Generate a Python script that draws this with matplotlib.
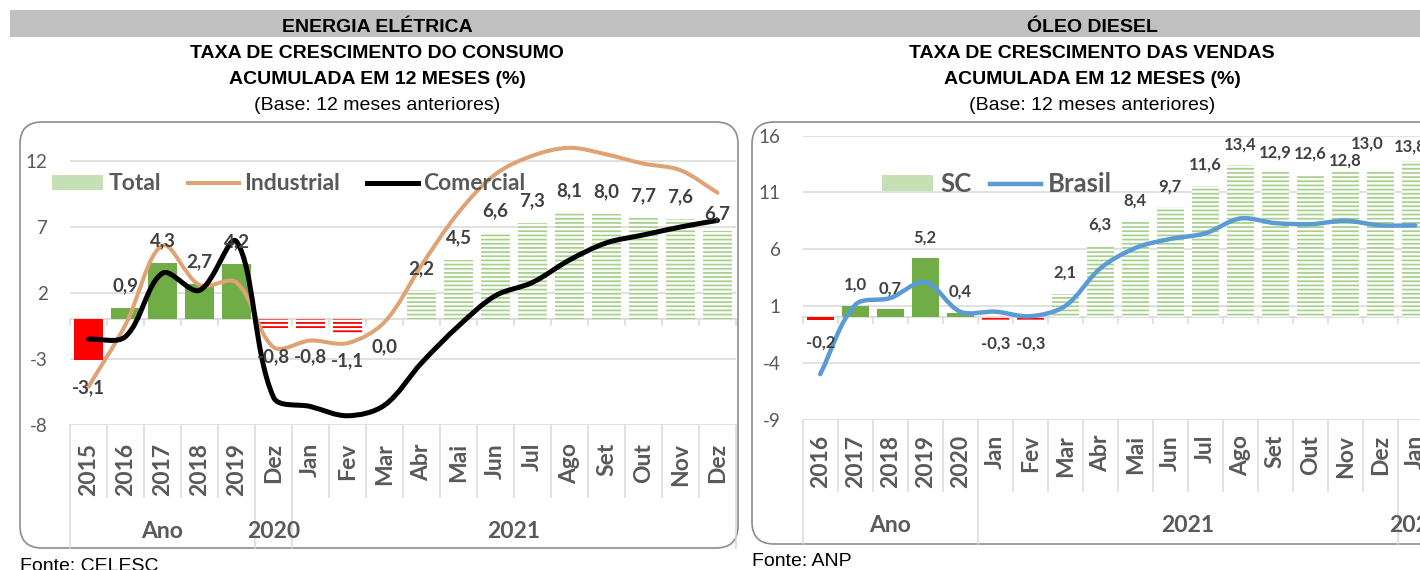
import numpy as np
import matplotlib
matplotlib.use("Agg")
import matplotlib.pyplot as plt
from matplotlib.patches import FancyBboxPatch, Rectangle, PathPatch, Patch
from matplotlib.path import Path
from matplotlib.lines import Line2D

# ---------------- data ----------------
left_categories = ['2015', '2016', '2017', '2018', '2019', 'Dez', 'Jan', 'Fev', 'Mar',
                   'Abr', 'Mai', 'Jun', 'Jul', 'Ago', 'Set', 'Out', 'Nov', 'Dez']
left_groups = [('Ano', 0, 4), ('2020', 5, 5), ('2021', 6, 17)]
left_total = [-3.1, 0.9, 4.3, 2.7, 4.2, -0.8, -0.8, -1.1, 0.0,
              2.2, 4.5, 6.6, 7.3, 8.1, 8.0, 7.7, 7.6, 6.7]
left_industrial = [-5.1, -0.4, 5.6, 2.6, 2.8, -2.1, -1.6, -1.8, -0.2,
                   4.1, 8.1, 11.0, 12.4, 13.0, 12.5, 11.8, 11.3, 9.6]
left_comercial = [-1.5, -1.3, 3.5, 2.2, 5.9, -5.9, -6.6, -7.3, -6.5,
                  -3.3, -0.5, 1.8, 2.8, 4.5, 5.8, 6.4, 7.0, 7.5]
left_yticks = [-8, -3, 2, 7, 12]

right_categories = ['2016', '2017', '2018', '2019', '2020', 'Jan', 'Fev', 'Mar', 'Abr',
                    'Mai', 'Jun', 'Jul', 'Ago', 'Set', 'Out', 'Nov', 'Dez', 'Jan']
right_groups = [('Ano', 0, 4), ('2021', 5, 16), ('2022', 17, 17)]
right_sc = [-0.2, 1.0, 0.7, 5.2, 0.4, -0.3, -0.3, 2.1, 6.3,
            8.4, 9.7, 11.6, 13.4, 12.9, 12.6, 12.8, 13.0, 13.8]
right_brasil = [-5.0, 1.1, 1.7, 3.1, 0.5, 0.5, 0.1, 1.0, 4.3,
                6.1, 6.9, 7.4, 8.7, 8.3, 8.2, 8.5, 8.1, 8.1]
right_yticks = [-9, -4, 1, 6, 11, 16]

# label nudges (pixels) for a few crowded data labels
left_label_nudge = {17: (0, -5)}
right_label_nudge = {13: (0, -3), 15: (0, -10), 16: (-13, 5), 17: (-5, -7)}

# ---------------- style ----------------
W, H, DPI = 1420, 570, 100
plt.rcParams['font.family'] = ['Lato', 'DejaVu Sans']
plt.rcParams['hatch.linewidth'] = 1.3

GRID = '#D9D9D9'
TXT = '#595959'
LBL = '#404040'
GREEN = '#70AD47'
LGREEN = '#C5E0B4'
HGREEN = '#A9D18E'
RED = '#FF0000'
ORANGE = '#DFA274'
BLUE = '#5B9BD5'
HEAD_FONT = ['Liberation Sans', 'DejaVu Sans']

fig = plt.figure(figsize=(W / DPI, H / DPI), dpi=DPI)
fig.patch.set_facecolor('white')


def fx(px):
    return px / W


def fy(py):
    return 1 - py / H


def smooth_path(xs, ys, sx, sy):
    """Bezier smoothing (Excel-like), control points weighted by screen chord lengths."""
    P = np.column_stack([np.asarray(xs, float) * sx, np.asarray(ys, float) * sy])
    n = len(P)
    cin = [None] * n
    cout = [None] * n
    for i in range(n):
        prev = P[i - 1] if i > 0 else P[i]
        nxt = P[i + 1] if i < n - 1 else P[i]
        T = nxt - prev
        dp = np.hypot(*(P[i] - prev))
        dn = np.hypot(*(nxt - P[i]))
        tot = dp + dn if dp + dn > 0 else 1.0
        cout[i] = P[i] + T * (dn / tot) / 3
        cin[i] = P[i] - T * (dp / tot) / 3
    verts = [P[0]]
    codes = [Path.MOVETO]
    for i in range(n - 1):
        verts += [cout[i], cin[i + 1], P[i + 1]]
        codes += [Path.CURVE4] * 3
    V = np.array(verts)
    V[:, 0] /= sx
    V[:, 1] /= sy
    return Path(V, codes)


def fmt(v):
    return f"{v:.1f}".replace('.', ',')


def build_panel(rect_px, ylim, yticks, cats, groups, bars, lines, bar_width,
                label_size, label_up, label_down, nudges, tick_pad, box_bottom,
                sep_bottom, group_label_y):
    left, top, width, bottom = rect_px
    ax_h = bottom - top
    ax = fig.add_axes([fx(left), fy(bottom), width / W, ax_h / H])
    ax.set_facecolor('none')
    for s in ax.spines.values():
        s.set_visible(False)
    n = len(cats)
    x = np.arange(n)
    n_annual = groups[0][2] + 1
    ppu = ax_h / (ylim[1] - ylim[0])
    ppc = width / n

    # bars: annual solid, monthly striped; green positive, red negative
    for i, v in enumerate(bars):
        annual = i < n_annual
        if v < 0:
            col, hcol = RED, RED
        else:
            col, hcol = GREEN, HGREEN
        if annual:
            ax.bar(x[i], v, bar_width, color=col, linewidth=0, zorder=2)
        else:
            ax.bar(x[i], v, bar_width, facecolor='white', edgecolor=hcol,
                   hatch='----', linewidth=0, zorder=2)

    # smoothed lines
    for vals, col, lw in lines:
        pp = PathPatch(smooth_path(x, vals, ppc, ppu), facecolor='none', edgecolor=col,
                       linewidth=lw, capstyle='round', joinstyle='round', zorder=3)
        ax.add_patch(pp)

    # data labels
    for i, v in enumerate(bars):
        dx, dy = nudges.get(i, (0, 0))
        off = label_up if v > 0 else -label_down
        ax.annotate(fmt(v), (x[i], v), xytext=(dx, off + dy), textcoords='offset pixels',
                    ha='center', va='center', fontsize=label_size, fontweight='bold',
                    color=LBL, zorder=6)

    ax.set_xlim(-0.5, n - 0.5)
    ax.set_ylim(*ylim)
    ax.set_yticks(yticks)
    ax.set_yticklabels([str(t) for t in yticks])
    ax.yaxis.grid(True, color=GRID, linewidth=1.1, zorder=0)
    ax.set_axisbelow(True)
    ax.tick_params(axis='y', length=0, pad=16, labelsize=13.5, labelcolor=TXT)
    ax.set_xticks(x)
    ax.set_xticklabels(cats, rotation=90, fontsize=16.5, fontweight='bold', color=TXT)
    ax.tick_params(axis='x', length=0, pad=tick_pad)

    # category axis at zero with small tick marks
    ax.axhline(0, color=GRID, linewidth=1.2, zorder=1)
    seps = np.arange(n + 1) - 0.5
    for s in seps:
        ax.plot([s, s], [0, -6 / ppu], color=GRID, linewidth=1.1, zorder=1, clip_on=False)

    # separators in label area
    trans = ax.get_xaxis_transform()
    bounds = set([g[1] - 0.5 for g in groups] + [groups[-1][2] + 0.5])
    for s in seps:
        yb = box_bottom if s in bounds else sep_bottom
        ax.plot([s, s], [0, -(yb - bottom) / ax_h], color=GRID, linewidth=1.1,
                transform=trans, clip_on=False, zorder=1)
    for name, a, b in groups:
        ax.text((a + b) / 2, -(group_label_y - bottom) / ax_h, name, transform=trans,
                ha='center', va='center', fontsize=16.5, fontweight='bold', color=TXT)
    ax.set_xlim(-0.5, n - 0.5)
    ax.set_ylim(*ylim)
    return ax


# ---------------- header band and titles ----------------
fig.add_artist(Rectangle((fx(10), fy(37)), fx(1420) - fx(10), 27 / H,
                         transform=fig.transFigure, facecolor='#C0C0C0',
                         edgecolor='none', zorder=0))

titles = [
    (377, ['ENERGIA ELÉTRICA', 'TAXA DE CRESCIMENTO DO CONSUMO', 'ACUMULADA EM 12 MESES (%)',
           '(Base: 12 meses anteriores)'], 'Fonte: CELESC', 20, 571),
    (1092, ['ÓLEO DIESEL', 'TAXA DE CRESCIMENTO DAS VENDAS', 'ACUMULADA EM 12 MESES (%)',
            '(Base: 12 meses anteriores)'], 'Fonte: ANP', 752, 566),
]
baselines = [32.3, 58.3, 83.6, 109.5]
for cx, lines_txt, src, sx, sy in titles:
    for k, (t, b) in enumerate(zip(lines_txt, baselines)):
        fig.text(fx(cx), fy(b), t, ha='center', va='baseline', family=HEAD_FONT,
                 fontsize=14, fontweight='bold' if k < 3 else 'normal', color='black')
    fig.text(fx(sx), fy(sy), src, ha='left', va='baseline', family=HEAD_FONT,
             fontsize=14, color='black')

# ---------------- chart boxes ----------------
for (x0, y0, x1, y1) in [(20, 122, 738, 548), (752, 122, 1460, 544)]:
    fig.add_artist(FancyBboxPatch((x0 / DPI, (H - y1) / DPI), (x1 - x0) / DPI, (y1 - y0) / DPI,
                                  boxstyle='round,pad=0,rounding_size=0.22',
                                  transform=fig.dpi_scale_trans, facecolor='none',
                                  edgecolor='#8C8C8C', linewidth=1.2, zorder=0))

# ---------------- panels ----------------
ax1 = build_panel((70, 134.6, 666, 425), (-8, 14), left_yticks, left_categories, left_groups,
                  left_total, [(left_industrial, ORANGE, 2.9), (left_comercial, 'black', 3.6)],
                  0.78, 13.5, 22, 27, left_label_nudge, 13, 548, 497, 531)
ax2 = build_panel((802.7, 135.6, 630, 419.6), (-9, 16), right_yticks, right_categories,
                  right_groups, right_sc, [(right_brasil, BLUE, 3.2)],
                  0.76, 12, 21, 23, right_label_nudge, 11, 544, 491, 526)

# ---------------- legends ----------------
h1 = [Patch(facecolor=LGREEN, edgecolor='none'),
      Line2D([], [], color=ORANGE, linewidth=2.9),
      Line2D([], [], color='black', linewidth=3.6)]
leg1 = ax1.legend(h1, ['Total', 'Industrial', 'Comercial'], ncol=3, loc='center left',
                  bbox_to_anchor=(fx(52), fy(184)), bbox_transform=fig.transFigure,
                  frameon=False, prop=dict(family='Lato', weight='bold', size=16.5),
                  handlelength=2.23, handleheight=0.62, handletextpad=0.22,
                  columnspacing=1.18, borderpad=0, borderaxespad=0, labelcolor=TXT)
leg1.set_zorder(5)

h2 = [Patch(facecolor=LGREEN, edgecolor='none'),
      Line2D([], [], color=BLUE, linewidth=3.2)]
leg2 = ax2.legend(h2, ['SC', 'Brasil'], ncol=2, loc='center left',
                  bbox_to_anchor=(fx(882), fy(184)), bbox_transform=fig.transFigure,
                  frameon=False, prop=dict(family='Lato', weight='bold', size=18.5),
                  handlelength=2.0, handleheight=0.55, handletextpad=0.27,
                  columnspacing=0.7, borderpad=0, borderaxespad=0, labelcolor=TXT)
leg2.set_zorder(5)

fig.savefig('out.png', dpi=DPI)
